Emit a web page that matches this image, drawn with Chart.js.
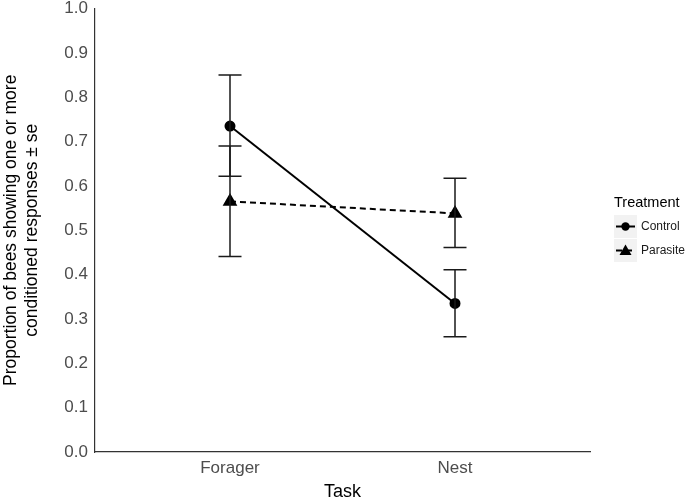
<!DOCTYPE html>
<html>
<head>
<meta charset="utf-8">
<title>Conditioned responses by task</title>
<script src="https://cdn.jsdelivr.net/npm/chart.js@4"></script>
<style>
  html, body { margin: 0; padding: 0; background: #fff; }
  #wrap { width: 685px; height: 503px; position: relative; }
</style>
</head>
<body>
<div id="wrap"><canvas id="chart"></canvas></div>
<script>
// Chart data
const tasks = ['Forager', 'Nest'];
const treatments = ['Control', 'Parasite'];
const controlMean = [0.735, 0.335];
const controlLower = [0.622, 0.260];
const controlUpper = [0.850, 0.411];
const parasiteMean = [0.565, 0.538];
const parasiteLower = [0.441, 0.461];
const parasiteUpper = [0.690, 0.617];
const yTicks = [0, 0.1, 0.2, 0.3, 0.4, 0.5, 0.6, 0.7, 0.8, 0.9, 1.0];

const FONT = 'Arial, "Liberation Sans", sans-serif';

function toPoints(means) {
    return means.map((v, i) => ({ x: i + 1, y: v }));
}

// Error bars drawn through the chart scales
const errorBars = {
    id: 'errorBars',
    afterDatasetsDraw(chart) {
        const ctx = chart.ctx;
        const xs = chart.scales.x;
        const ys = chart.scales.y;
        ctx.save();
        ctx.strokeStyle = '#1a1a1a';
        ctx.lineWidth = 1.5;
        chart.data.datasets.forEach(ds => {
            ds.lower.forEach((lo, i) => {
                const x = xs.getPixelForValue(i + 1);
                const yLo = ys.getPixelForValue(lo);
                const yHi = ys.getPixelForValue(ds.upper[i]);
                const half = 11.5;
                ctx.beginPath();
                ctx.moveTo(x, yLo);
                ctx.lineTo(x, yHi);
                ctx.moveTo(x - half, yLo);
                ctx.lineTo(x + half, yLo);
                ctx.moveTo(x - half, yHi);
                ctx.lineTo(x + half, yHi);
                ctx.stroke();
            });
        });
        ctx.restore();
    }
};

// ggplot-like legend on the right
const sideLegend = {
    id: 'sideLegend',
    afterDraw(chart) {
        const ctx = chart.ctx;
        const left = 614;
        ctx.save();
        ctx.fillStyle = '#000';
        ctx.font = '14.5px ' + FONT;
        ctx.textBaseline = 'middle';
        ctx.textAlign = 'left';
        ctx.fillText('Treatment', left, 203);

        chart.data.datasets.forEach((ds, i) => {
            const top = 215 + i * 24;
            ctx.fillStyle = '#f2f2f2';
            ctx.fillRect(left, top, 23, 23);
            const cy = top + 11.5;
            ctx.strokeStyle = '#000';
            ctx.lineWidth = 2;
            ctx.setLineDash(ds.borderDash || []);
            ctx.beginPath();
            ctx.moveTo(left + 2, cy);
            ctx.lineTo(left + 21, cy);
            ctx.stroke();
            ctx.setLineDash([]);
            ctx.fillStyle = '#000';
            const cx = left + 11.5;
            if (ds.pointStyle === 'triangle') {
                ctx.beginPath();
                ctx.moveTo(cx, cy - 6);
                ctx.lineTo(cx + 6, cy + 4.5);
                ctx.lineTo(cx - 6, cy + 4.5);
                ctx.closePath();
                ctx.fill();
            } else {
                ctx.beginPath();
                ctx.arc(cx, cy, 4.2, 0, Math.PI * 2);
                ctx.fill();
            }
            ctx.fillStyle = '#1a1a1a';
            ctx.font = '12px ' + FONT;
            ctx.fillText(ds.label, left + 27, cy);
        });
        ctx.restore();
    }
};

const ctx = document.getElementById('chart').getContext('2d');
new Chart(ctx, {
    type: 'line',
    data: {
        datasets: [
            {
                label: treatments[0],
                data: toPoints(controlMean),
                lower: controlLower,
                upper: controlUpper,
                borderColor: '#000',
                backgroundColor: '#000',
                borderWidth: 2,
                pointStyle: 'circle',
                pointRadius: 4.5,
                pointHoverRadius: 4.5
            },
            {
                label: treatments[1],
                data: toPoints(parasiteMean),
                lower: parasiteLower,
                upper: parasiteUpper,
                borderColor: '#000',
                backgroundColor: '#000',
                borderWidth: 2,
                borderDash: [6, 4],
                pointStyle: 'triangle',
                pointRadius: 6.5,
                pointHoverRadius: 6.5
            }
        ]
    },
    options: {
        responsive: true,
        maintainAspectRatio: false,
        animation: false,
        layout: { padding: { top: 0, right: 95, left: 0, bottom: 0 } },
        plugins: {
            legend: { display: false },
            tooltip: { enabled: false }
        },
        scales: {
            x: {
                type: 'linear',
                min: 0.4,
                max: 2.6,
                afterBuildTicks: scale => {
                    scale.ticks = tasks.map((t, i) => ({ value: i + 1 }));
                },
                afterFit: scale => { scale.height = 51; },
                grid: {
                    display: false,
                    drawTicks: true,
                    tickLength: 4,
                    tickColor: '#333'
                },
                border: { display: true, color: '#333', width: 1.2 },
                ticks: {
                    autoSkip: false,
                    maxRotation: 0,
                    padding: 2,
                    color: '#4d4d4d',
                    font: { family: FONT, size: 17 },
                    callback: value => tasks[value - 1]
                },
                title: {
                    display: true,
                    text: 'Task',
                    color: '#000',
                    font: { family: FONT, size: 18 },
                    padding: { top: 7, bottom: 0 }
                }
            },
            y: {
                min: 0,
                max: 1,
                afterBuildTicks: scale => {
                    scale.ticks = yTicks.map(v => ({ value: v }));
                },
                afterFit: scale => {
                    scale.width = 95;
                    scale.paddingTop = 8;
                    scale.paddingBottom = 0;
                },
                grid: {
                    display: false,
                    drawTicks: true,
                    tickLength: 4,
                    tickColor: '#333'
                },
                border: { display: true, color: '#333', width: 1.2 },
                ticks: {
                    padding: 3,
                    color: '#4d4d4d',
                    font: { family: FONT, size: 17 },
                    callback: value => value.toFixed(1)
                },
                title: {
                    display: true,
                    text: ['Proportion of bees showing one or more', 'conditioned responses \u00b1 se'],
                    color: '#000',
                    font: { family: FONT, size: 17.5, lineHeight: 1.2 },
                    padding: { top: 1, bottom: 0 }
                }
            }
        }
    },
    plugins: [errorBars, sideLegend]
});
</script>
</body>
</html>
